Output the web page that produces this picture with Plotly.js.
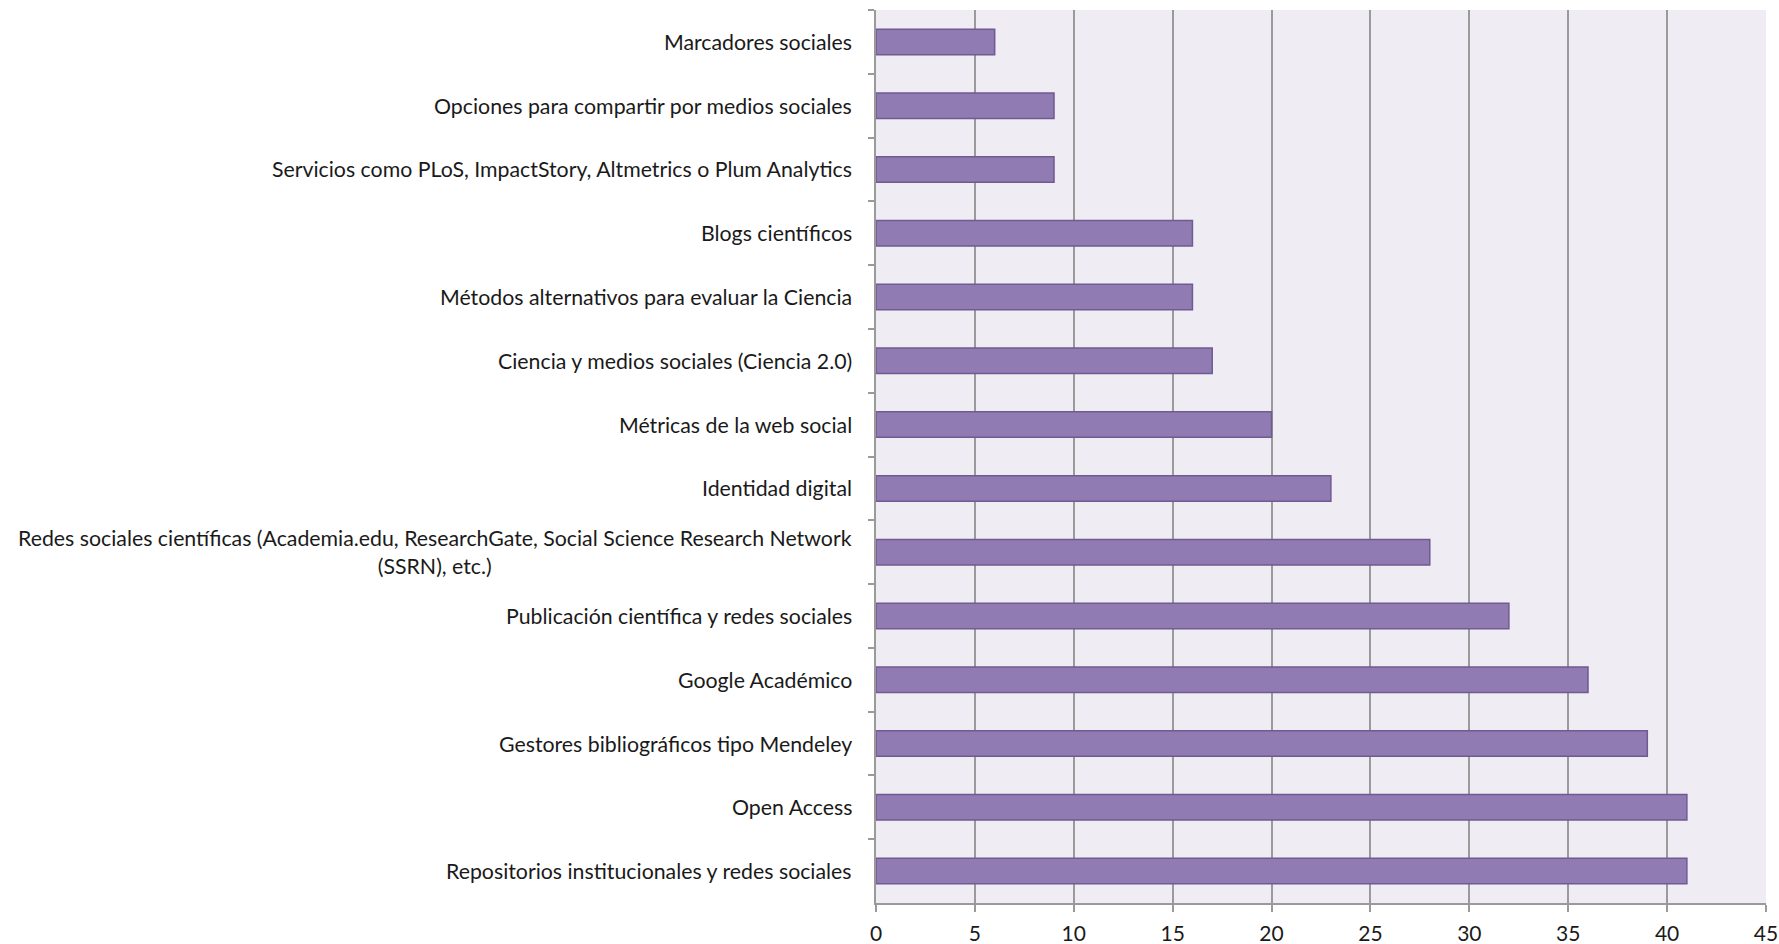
<!DOCTYPE html>
<html>
<head>
<meta charset="utf-8">
<script src="https://cdn.plot.ly/plotly-3.0.1.min.js"></script>
<style>html,body{margin:0;padding:0;background:#fff;}#chart{width:1779px;height:944px;}</style>
</head>
<body>
<div id="chart"></div>
<script>
const categories = [
  "Marcadores sociales",
  "Opciones para compartir por medios sociales",
  "Servicios como PLoS, ImpactStory, Altmetrics o Plum Analytics",
  "Blogs científicos",
  "Métodos alternativos para evaluar la Ciencia",
  "Ciencia y medios sociales (Ciencia 2.0)",
  "Métricas de la web social",
  "Identidad digital",
  "Redes sociales científicas (Academia.edu, ResearchGate, Social Science Research Network<br>(SSRN), etc.)",
  "Publicación científica y redes sociales",
  "Google Académico",
  "Gestores bibliográficos tipo Mendeley",
  "Open Access",
  "Repositorios institucionales y redes sociales"
];
const values = [6, 9, 9, 16, 16, 17, 20, 23, 28, 32, 36, 39, 41, 41];
const xTicks = [0, 5, 10, 15, 20, 25, 30, 35, 40, 45];

const FONT = "Lato, 'Open Sans', sans-serif";

const trace = {
  type: "bar",
  orientation: "h",
  y: categories,
  x: values,
  marker: {color: "#907BB3", line: {color: "#6F5A92", width: 1.5}},
  hoverinfo: "x+y"
};

const annotations = categories.map((c) => ({
  xref: "paper", yref: "y",
  x: 0, y: c,
  xanchor: "right", yanchor: "middle",
  xshift: -22,
  text: c,
  align: "center",
  showarrow: false,
  font: {family: FONT, size: 21.3, color: "#1a1a1a"}
}));

const layout = {
  width: 1779, height: 944,
  margin: {l: 876, r: 13, t: 10, b: 41},
  paper_bgcolor: "#ffffff",
  plot_bgcolor: "#EFEDF3",
  bargap: 0.6,
  showlegend: false,
  font: {family: FONT, size: 21, color: "#1a1a1a"},
  xaxis: {
    range: [0, 45],
    tickvals: xTicks,
    ticktext: xTicks.map(String),
    showgrid: true,
    gridcolor: "#9a9a9a",
    gridwidth: 2,
    zeroline: false,
    showline: true,
    linecolor: "#9a9a9a",
    linewidth: 2,
    ticks: "outside",
    ticklen: 7,
    tickcolor: "#9a9a9a",
    tickwidth: 1.5,
    ticklabelstandoff: 4,
    tickfont: {family: FONT, size: 21, color: "#1a1a1a"},
    fixedrange: true
  },
  yaxis: {
    autorange: "reversed",
    type: "category",
    showticklabels: false,
    ticks: "outside",
    tickson: "boundaries",
    ticklen: 6,
    tickcolor: "#9a9a9a",
    tickwidth: 1.5,
    showgrid: false,
    showline: true,
    linecolor: "#9a9a9a",
    linewidth: 2,
    fixedrange: true
  },
  annotations: annotations
};

Plotly.newPlot("chart", [trace], layout, {displayModeBar: false, staticPlot: false});
</script>
</body>
</html>
